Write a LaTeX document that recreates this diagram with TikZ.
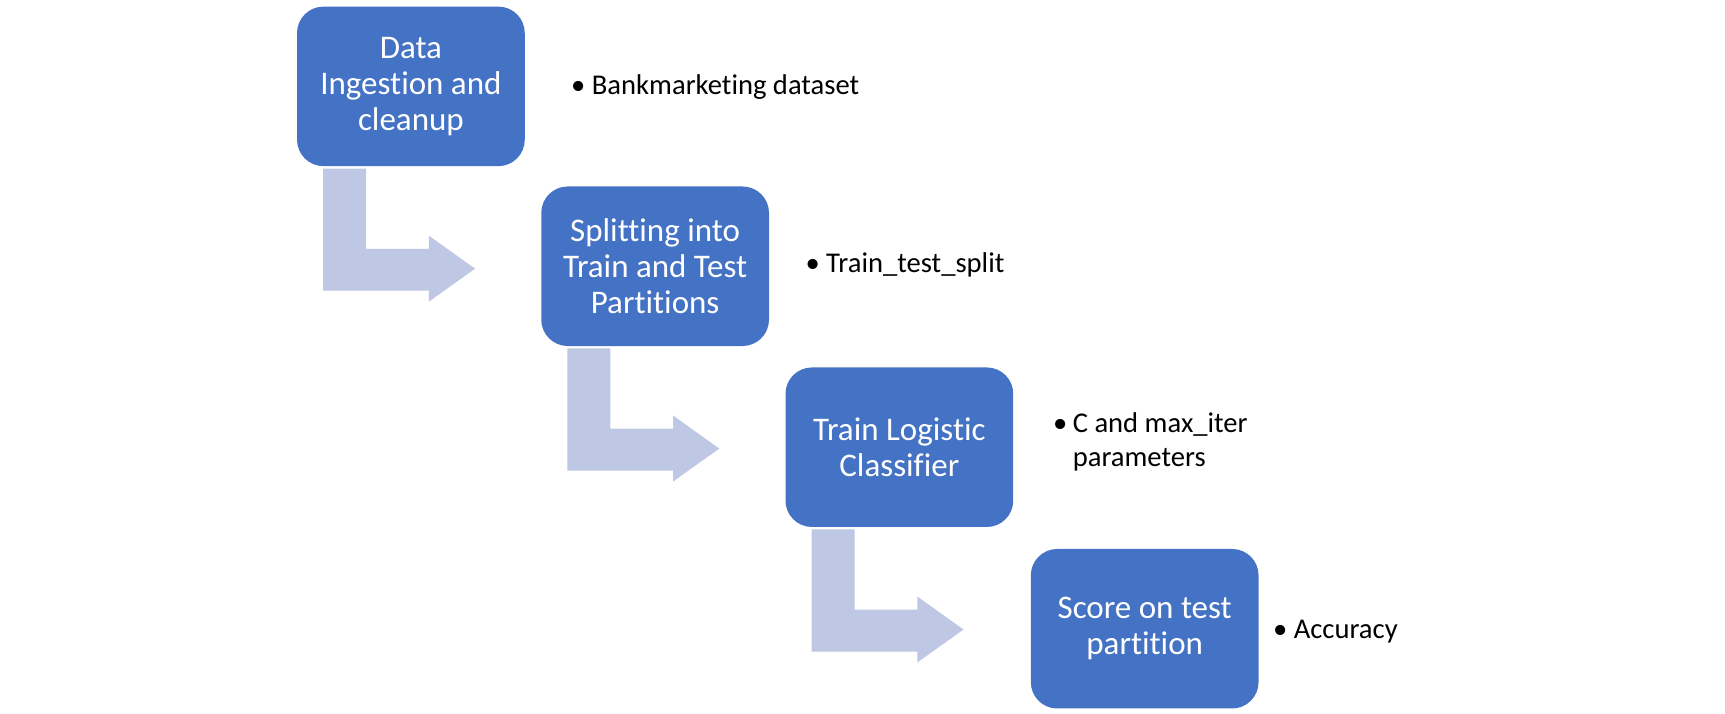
\documentclass[tikz,border=0pt]{standalone}
\usepackage{fontspec}
\setmainfont[Ligatures={NoCommon}]{Carlito}
\usetikzlibrary{calc}
\definecolor{boxblue}{RGB}{68,114,196}
\definecolor{arrowblue}{RGB}{190,200,228}
\tikzset{
  stepbox/.style={fill=boxblue, draw=none, rounded corners=24pt, minimum width=207pt, minimum height=145pt, text=white, align=center, font=\fontsize{30}{32.5}\selectfont, inner sep=0pt},
  bullettext/.style={anchor=west, font=\fontsize{26}{31}\selectfont, inner sep=0pt, text=black},
  bentarrow/.style={fill=arrowblue, draw=none}
}
\newcommand{\bentarrowfrom}[1]{%
  \fill[bentarrow] ($(#1.south west)+(24,2)$) -- ($(#1.south west)+(63,2)$) -- ($(#1.south west)+(63,75)$) -- ($(#1.south west)+(120,75)$) -- ($(#1.south west)+(120,63)$) -- ($(#1.south west)+(162,93)$) -- ($(#1.south west)+(120,123)$) -- ($(#1.south west)+(120,113)$) -- ($(#1.south west)+(24,113)$) -- cycle;}
\begin{document}
\begin{tikzpicture}[x=1pt,y=-1pt]
\useasboundingbox (0,0) rectangle (1568,649);
\node[stepbox] (b1) at (373.5,78.5) {Data\\Ingestion and\\cleanup};
\node[stepbox] (b2) at (595.5,242) {Splitting into\\Train and Test\\Partitions};
\node[stepbox] (b3) at (817.5,406.5) {Train Logistic\\Classifier};
\node[stepbox] (b4) at (1040.5,571.5) {Score on test\\partition};
\bentarrowfrom{b1}
\bentarrowfrom{b2}
\bentarrowfrom{b3}
\node[bullettext] (t1) at (519,79) {\textbullet\ Bankmarketing dataset};
\node[bullettext] (t2) at (732,241) {\textbullet\ Train\_test\_split};
\node[bullettext] (t3) at (957,402) {\begin{tabular}{@{}l@{\hspace{5pt}}l@{}}\textbullet & C and max\_iter\\ & parameters\end{tabular}};
\node[bullettext] (t4) at (1157,574) {\textbullet\ Accuracy};
\end{tikzpicture}
\end{document}
